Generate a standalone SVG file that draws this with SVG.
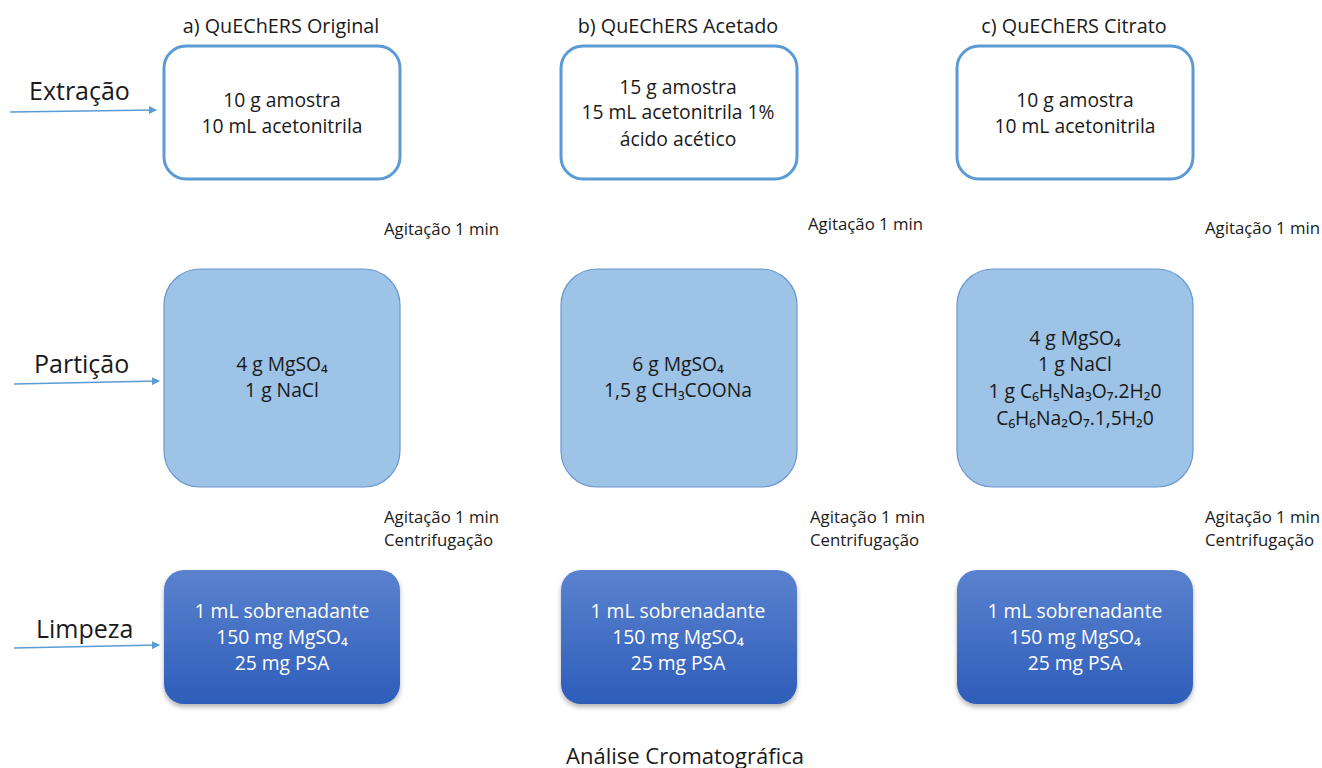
<svg xmlns="http://www.w3.org/2000/svg" width="1322" height="768" viewBox="0 0 1322 768">
<style>
text{font-family:"Open Sans","Noto Sans","DejaVu Sans",sans-serif;fill:#1a1a1a;text-anchor:middle}
.ext{fill:#fff;stroke:#5b9bd5;stroke-width:3}
.par{fill:#9dc3e6;stroke:#6a96d0;stroke-width:1.2}
.lim{fill:url(#g);filter:url(#sh)}
.bt{font-size:19.3px}
.wt{font-size:19.3px;fill:#fff}
.side{font-size:25px;text-anchor:start}
.title{font-size:19.8px}
.step{font-size:16.8px;text-anchor:start}
.arr{stroke:#5b9bd5;stroke-width:1.3;fill:none;marker-end:url(#ah)}
</style>
<defs>
<linearGradient id="g" x1="0" y1="0" x2="0" y2="1">
<stop offset="0" stop-color="#5b82cf"/>
<stop offset="1" stop-color="#2d5db9"/>
</linearGradient>
<filter id="sh" x="-10%" y="-10%" width="120%" height="125%">
<feDropShadow dx="0" dy="3" stdDeviation="2.5" flood-color="#000" flood-opacity="0.3"/>
</filter>
<marker id="ah" markerWidth="8" markerHeight="8" refX="7" refY="4" orient="auto" markerUnits="userSpaceOnUse">
<path d="M0,0 L8,4 L0,8 Z" fill="#5b9bd5"/>
</marker>
</defs>
<rect width="1322" height="768" fill="#fff"/>

<text class="title" x="281" y="33">a) QuEChERS Original</text>
<text class="title" x="678" y="33">b) QuEChERS Acetado</text>
<text class="title" x="1074" y="33">c) QuEChERS Citrato</text>

<text class="side" x="29" y="100">Extração</text>
<text class="side" x="34" y="373">Partição</text>
<text class="side" x="36" y="638">Limpeza</text>

<g id="connectors">
<line class="arr" x1="10" y1="112" x2="156" y2="110"/>
<line class="arr" x1="14" y1="384" x2="159" y2="381"/>
<line class="arr" x1="14" y1="648" x2="159" y2="645"/>
</g>

<g id="ext-a"><rect class="ext" x="164" y="46" width="236" height="133" rx="22"/>
<text class="bt" x="282" y="107">10 g amostra</text><text class="bt" x="282" y="133">10 mL acetonitrila</text></g>
<g id="ext-b"><rect class="ext" x="561" y="46" width="236" height="133" rx="22"/>
<text class="bt" x="678" y="94">15 g amostra</text><text class="bt" x="678" y="119">15 mL acetonitrila 1%</text><text class="bt" x="678" y="146">ácido acético</text></g>
<g id="ext-c"><rect class="ext" x="957" y="46" width="236" height="133" rx="22"/>
<text class="bt" x="1075" y="107">10 g amostra</text><text class="bt" x="1075" y="133">10 mL acetonitrila</text></g>

<text class="step" x="384" y="235">Agitação 1 min</text>
<text class="step" x="808" y="230">Agitação 1 min</text>
<text class="step" x="1205" y="234">Agitação 1 min</text>

<g id="par-a"><rect class="par" x="164" y="269" width="236" height="218" rx="36"/>
<text class="bt" x="282" y="371">4 g MgSO₄</text><text class="bt" x="282" y="397">1 g NaCl</text></g>
<g id="par-b"><rect class="par" x="561" y="269" width="236" height="218" rx="36"/>
<text class="bt" x="678" y="371">6 g MgSO₄</text><text class="bt" x="678" y="397">1,5 g CH₃COONa</text></g>
<g id="par-c"><rect class="par" x="957" y="269" width="236" height="218" rx="36"/>
<text class="bt" x="1075" y="345">4 g MgSO₄</text><text class="bt" x="1075" y="371">1 g NaCl</text><text class="bt" x="1075" y="398">1 g C₆H₅Na₃O₇.2H₂0</text><text class="bt" x="1075" y="425">C₆H₆Na₂O₇.1,5H₂0</text></g>

<text class="step" x="384" y="523">Agitação 1 min</text><text class="step" x="384" y="546">Centrifugação</text>
<text class="step" x="810" y="523">Agitação 1 min</text><text class="step" x="810" y="546">Centrifugação</text>
<text class="step" x="1205" y="523">Agitação 1 min</text><text class="step" x="1205" y="546">Centrifugação</text>

<g id="lim-a"><rect class="lim" x="164" y="570" width="236" height="134" rx="20"/>
<text class="wt" x="282" y="618">1 mL sobrenadante</text><text class="wt" x="282" y="644">150 mg MgSO₄</text><text class="wt" x="282" y="670">25 mg PSA</text></g>
<g id="lim-b"><rect class="lim" x="561" y="570" width="236" height="134" rx="20"/>
<text class="wt" x="678" y="618">1 mL sobrenadante</text><text class="wt" x="678" y="644">150 mg MgSO₄</text><text class="wt" x="678" y="670">25 mg PSA</text></g>
<g id="lim-c"><rect class="lim" x="957" y="570" width="236" height="134" rx="20"/>
<text class="wt" x="1075" y="618">1 mL sobrenadante</text><text class="wt" x="1075" y="644">150 mg MgSO₄</text><text class="wt" x="1075" y="670">25 mg PSA</text></g>

<text x="685" y="764" style="font-size:22px">Análise Cromatográfica</text>
</svg>
